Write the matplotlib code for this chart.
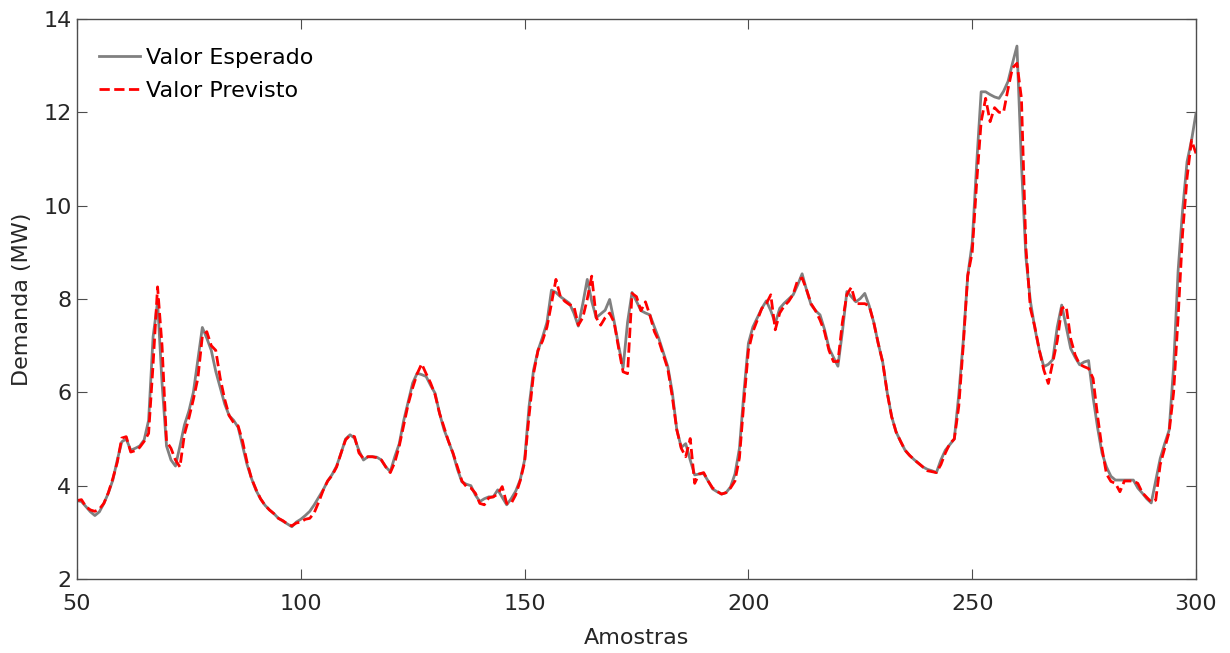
import matplotlib
matplotlib.use("Agg")
import matplotlib.pyplot as plt
import numpy as np

samples = list(range(50, 301))

valor_esperado = [
    3.68, 3.66, 3.55, 3.44, 3.36, 3.44, 3.62, 3.84, 4.12, 4.55,   # 50-59
    4.94, 5.00, 4.76, 4.80, 4.85, 4.98, 5.40, 7.19, 7.94, 6.20,   # 60-69
    4.85, 4.55, 4.42, 4.85, 5.30, 5.60, 6.00, 6.70, 7.39, 7.16,   # 70-79
    6.90, 6.45, 6.10, 5.75, 5.50, 5.40, 5.25, 4.85, 4.45, 4.15,   # 80-89
    3.90, 3.72, 3.58, 3.48, 3.40, 3.30, 3.24, 3.18, 3.12, 3.22,   # 90-99
    3.28, 3.36, 3.45, 3.59, 3.75, 3.91, 4.10, 4.24, 4.42, 4.70,   # 100-109
    5.00, 5.09, 5.02, 4.75, 4.55, 4.62, 4.62, 4.61, 4.55, 4.40,   # 110-119
    4.30, 4.62, 4.90, 5.40, 5.80, 6.20, 6.41, 6.38, 6.34, 6.15,   # 120-129
    5.98, 5.55, 5.20, 4.95, 4.69, 4.35, 4.08, 4.03, 4.00, 3.80,   # 130-139
    3.66, 3.72, 3.76, 3.76, 3.91, 3.75, 3.59, 3.72, 3.88, 4.12,   # 140-149
    4.55, 5.70, 6.48, 6.90, 7.18, 7.50, 8.19, 8.14, 8.05, 7.98,   # 150-159
    7.91, 7.70, 7.42, 7.90, 8.42, 7.95, 7.60, 7.68, 7.76, 7.99,   # 160-169
    7.52, 7.00, 6.52, 7.50, 8.14, 7.95, 7.75, 7.70, 7.66, 7.40,   # 170-179
    7.15, 6.85, 6.55, 6.00, 5.20, 4.82, 4.90, 4.55, 4.23, 4.25,   # 180-189
    4.26, 4.10, 3.93, 3.87, 3.82, 3.85, 3.97, 4.25, 4.80, 6.00,   # 190-199
    7.05, 7.40, 7.60, 7.80, 7.96, 7.75, 7.48, 7.80, 7.91, 8.00,   # 200-209
    8.09, 8.30, 8.54, 8.19, 7.88, 7.75, 7.66, 7.35, 6.95, 6.75,   # 210-219
    6.56, 7.30, 8.16, 8.05, 7.94, 8.01, 8.12, 7.85, 7.50, 7.05,   # 220-229
    6.65, 6.00, 5.48, 5.15, 4.95, 4.76, 4.65, 4.56, 4.48, 4.40,   # 230-239
    4.35, 4.32, 4.28, 4.55, 4.76, 4.88, 5.00, 5.95, 7.10, 8.50,   # 240-249
    9.20, 10.90, 12.44, 12.44, 12.38, 12.33, 12.30, 12.45, 12.66, 13.05,  # 250-259
    13.42, 10.90, 8.90, 7.95, 7.37, 6.90, 6.55, 6.60, 6.70, 7.40,  # 260-269
    7.87, 7.40, 6.94, 6.75, 6.59, 6.65, 6.68, 5.90, 5.25, 4.70,   # 270-279
    4.40, 4.20, 4.12, 4.12, 4.12, 4.12, 4.12, 3.95, 3.84, 3.72,   # 280-289
    3.63, 4.10, 4.58, 4.90, 5.19, 6.55, 8.60, 9.90, 10.94, 11.40,  # 290-299
    11.98,                                                        # 300
]

valor_previsto = [
    3.68, 3.70, 3.55, 3.48, 3.45, 3.50, 3.62, 3.85, 4.15, 4.50,   # 50-59
    5.02, 5.05, 4.72, 4.75, 4.82, 4.95, 5.12, 6.60, 8.26, 7.00,   # 60-69
    4.95, 4.80, 4.55, 4.40, 5.10, 5.45, 5.85, 6.30, 7.20, 7.30,   # 70-79
    7.00, 6.90, 6.30, 5.85, 5.50, 5.35, 5.28, 4.95, 4.50, 4.15,   # 80-89
    3.92, 3.72, 3.58, 3.48, 3.40, 3.30, 3.25, 3.18, 3.14, 3.20,   # 90-99
    3.22, 3.28, 3.30, 3.42, 3.65, 3.90, 4.10, 4.22, 4.40, 4.70,   # 100-109
    4.98, 5.08, 5.05, 4.70, 4.58, 4.62, 4.62, 4.60, 4.55, 4.40,   # 110-119
    4.28, 4.50, 4.85, 5.30, 5.75, 6.10, 6.40, 6.61, 6.40, 6.20,   # 120-129
    5.95, 5.55, 5.25, 4.95, 4.70, 4.40, 4.10, 3.98, 3.95, 3.84,   # 130-139
    3.62, 3.59, 3.74, 3.76, 3.82, 3.98, 3.62, 3.62, 3.80, 4.10,   # 140-149
    4.50, 5.50, 6.40, 6.90, 7.10, 7.40, 7.90, 8.42, 8.05, 7.95,   # 150-159
    7.88, 7.85, 7.44, 7.60, 8.00, 8.49, 7.60, 7.44, 7.60, 7.70,   # 160-169
    7.50, 6.95, 6.44, 6.40, 8.12, 8.05, 7.75, 7.94, 7.65, 7.30,   # 170-179
    7.10, 6.80, 6.50, 5.90, 5.20, 4.80, 4.62, 5.01, 4.05, 4.25,   # 180-189
    4.28, 4.10, 3.95, 3.88, 3.82, 3.85, 3.95, 4.10, 4.60, 5.80,   # 190-199
    6.90, 7.30, 7.55, 7.80, 7.90, 8.09, 7.34, 7.70, 7.85, 7.95,   # 200-209
    8.10, 8.40, 8.45, 8.20, 7.90, 7.75, 7.55, 7.30, 6.90, 6.66,   # 210-219
    6.66, 7.50, 8.10, 8.25, 7.90, 7.90, 7.90, 7.85, 7.50, 7.05,   # 220-229
    6.65, 6.00, 5.48, 5.15, 4.95, 4.76, 4.65, 4.56, 4.48, 4.40,   # 230-239
    4.32, 4.30, 4.28, 4.45, 4.70, 4.90, 5.00, 5.70, 7.00, 8.50,   # 240-249
    9.00, 10.50, 11.80, 12.30, 11.80, 12.10, 12.00, 12.00, 12.50, 12.95,  # 250-259
    13.05, 12.30, 9.10, 7.80, 7.40, 6.90, 6.48, 6.19, 6.65, 7.10,  # 260-269
    7.80, 7.84, 7.15, 6.80, 6.60, 6.55, 6.51, 6.30, 5.50, 4.80,   # 270-279
    4.25, 4.09, 4.05, 3.87, 4.10, 4.10, 4.10, 4.05, 3.85, 3.75,   # 280-289
    3.65, 3.69, 4.45, 4.80, 5.15, 6.00, 7.60, 9.40, 10.60, 11.40,  # 290-299
    11.12,                                                        # 300
]

x_ticks = [50, 100, 150, 200, 250, 300]
y_ticks = [2, 4, 6, 8, 10, 12, 14]

plt.rcParams['font.family'] = ['DejaVu Sans']

fig = plt.figure(figsize=(12.3, 6.53), dpi=100)
ax = fig.add_axes([77 / 1230, 74 / 653, (1196 - 77) / 1230, (579 - 19) / 653])

ax.plot(samples, valor_esperado, color='#808080', linewidth=2.0, label='Valor Esperado')
ax.plot(samples, valor_previsto, color='#ff0000', linewidth=2.0, linestyle='--',
        label='Valor Previsto')

ax.set_xlim(50, 300)
ax.set_ylim(2, 14)
ax.set_xticks(x_ticks)
ax.set_yticks(y_ticks)

axis_color = '#262626'
for s in ax.spines.values():
    s.set_color('#4d4d4d')
    s.set_linewidth(1.0)
ax.tick_params(direction='in', top=True, right=True, length=7, width=0.8,
               colors='#4d4d4d', labelcolor=axis_color, labelsize=16)
ax.tick_params(axis='x', pad=11)
ax.tick_params(axis='y', pad=4)

ax.set_xlabel('Amostras', fontsize=16, color=axis_color, labelpad=10)
ax.set_ylabel('Demanda (MW)', fontsize=16, color=axis_color, labelpad=8)

leg = ax.legend(loc='upper left', bbox_to_anchor=(-0.006, 1.0), frameon=False,
                fontsize=16, handlelength=1.85, handletextpad=0.25,
                labelspacing=0.6, borderaxespad=0.9)

fig.savefig('out.png', dpi=100)
